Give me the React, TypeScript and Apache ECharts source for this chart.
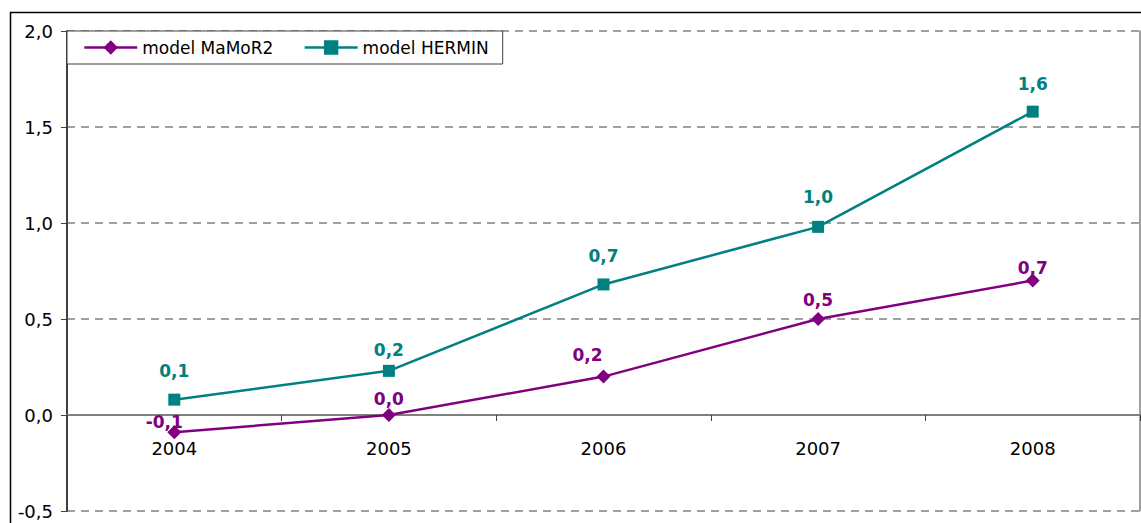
import React, { useEffect, useRef } from "react";
import * as echarts from "echarts";

const categories = ["2004", "2005", "2006", "2007", "2008"];
const mamor2Values = [-0.09, 0.0, 0.2, 0.5, 0.7];
const herminValues = [0.08, 0.23, 0.68, 0.98, 1.58];
const seriesNames = ["model MaMoR2", "model HERMIN"];

const PURPLE = "#800080";
const TEAL = "#008080";
const FONT = "DejaVu Sans";

// label placement tweaks (style, relative to the point)
const mamorLabelOffsets = [[-10, -10], [0, -16], [-16, -22], [0, -19], [0, -13]];
const herminLabelOffsets = [[0, -29], [0, -21], [0, -28], [0, -30], [0, -28]];

const fmt = (v: number) => v.toFixed(1).replace(".", ",");

export default function App() {
  const ref = useRef<HTMLDivElement>(null);
  useEffect(() => {
    if (!ref.current) return;
    const chart = echarts.init(ref.current, undefined, { renderer: "svg" });
    const mkData = (vals: number[], offs: number[][]) =>
      vals.map((v, i) => ({ value: v, label: { offset: offs[i] } }));
    chart.setOption({
      animation: false,
      backgroundColor: "#fff",
      textStyle: { fontFamily: FONT },
      grid: {
        left: 67,
        right: 1,
        top: 31,
        bottom: 12,
        containLabel: false,
        outerBoundsMode: "none",
      },
      legend: {
        left: 67,
        top: 31,
        orient: "horizontal",
        backgroundColor: "#fff",
        borderColor: "#404040",
        borderWidth: 1,
        borderRadius: 0,
        padding: [8, 14, 8, 16],
        itemWidth: 53,
        itemHeight: 18,
        itemGap: 30,
        lineStyle: { width: 2.5 },
        textStyle: { fontFamily: FONT, fontSize: 17, color: "#000" },
        data: seriesNames,
      },
      xAxis: {
        type: "category",
        data: categories,
        boundaryGap: true,
        position: "bottom",
        offset: -96,
        axisLine: {
          onZero: false,
          lineStyle: { color: "#808080", width: 2 },
        },
        axisTick: { show: true, length: 6, lineStyle: { color: "#404040", width: 1 } },
        axisLabel: { fontFamily: FONT, fontSize: 18, color: "#000", margin: 24 },
        splitLine: { show: false },
      },
      yAxis: [
        {
          type: "value",
          min: -0.5,
          max: 2,
          interval: 0.5,
          axisLine: { show: true, onZero: false, lineStyle: { color: "#404040", width: 2 } },
          axisTick: { show: true, length: 6, lineStyle: { color: "#404040", width: 1 } },
          axisLabel: {
            fontFamily: FONT,
            fontSize: 18,
            color: "#000",
            margin: 14,
            formatter: (v: number) => fmt(v),
          },
          splitLine: {
            show: true,
            lineStyle: { color: "#808080", width: 1.5, type: [8, 6] },
          },
        },
        {
          type: "value",
          position: "right",
          min: -0.5,
          max: 2,
          interval: 0.5,
          axisLine: { show: true, onZero: false, lineStyle: { color: "#808080", width: 1.5 } },
          axisTick: { show: false },
          axisLabel: { show: false },
          splitLine: { show: false },
        },
      ],
      series: [
        {
          name: seriesNames[0],
          type: "line",
          data: mkData(mamor2Values, mamorLabelOffsets),
          symbol: "diamond",
          symbolSize: 14,
          color: PURPLE,
          lineStyle: { color: PURPLE, width: 2.5 },
          itemStyle: { color: PURPLE },
          label: {
            show: true,
            position: "inside",
            fontFamily: FONT,
            fontSize: 17,
            fontWeight: "bold",
            color: PURPLE,
            formatter: (p: any) => fmt(p.value),
          },
          z: 3,
        },
        {
          name: seriesNames[1],
          type: "line",
          data: mkData(herminValues, herminLabelOffsets),
          symbol: "rect",
          symbolSize: 12,
          color: TEAL,
          lineStyle: { color: TEAL, width: 2.5 },
          itemStyle: { color: TEAL },
          label: {
            show: true,
            position: "inside",
            fontFamily: FONT,
            fontSize: 17,
            fontWeight: "bold",
            color: TEAL,
            formatter: (p: any) => fmt(p.value),
          },
          z: 3,
        },
      ],
      graphic: [
        {
          type: "rect",
          silent: true,
          shape: { x: 10.5, y: 12.5, width: 1300, height: 700 },
          style: { fill: "none", stroke: "#000", lineWidth: 1.5 },
          z: -10,
        },
      ],
    });
    return () => chart.dispose();
  }, []);
  return (
    <div
      ref={ref}
      style={{ position: "fixed", left: 0, top: 0, width: 1141, height: 523 }}
    />
  );
}
